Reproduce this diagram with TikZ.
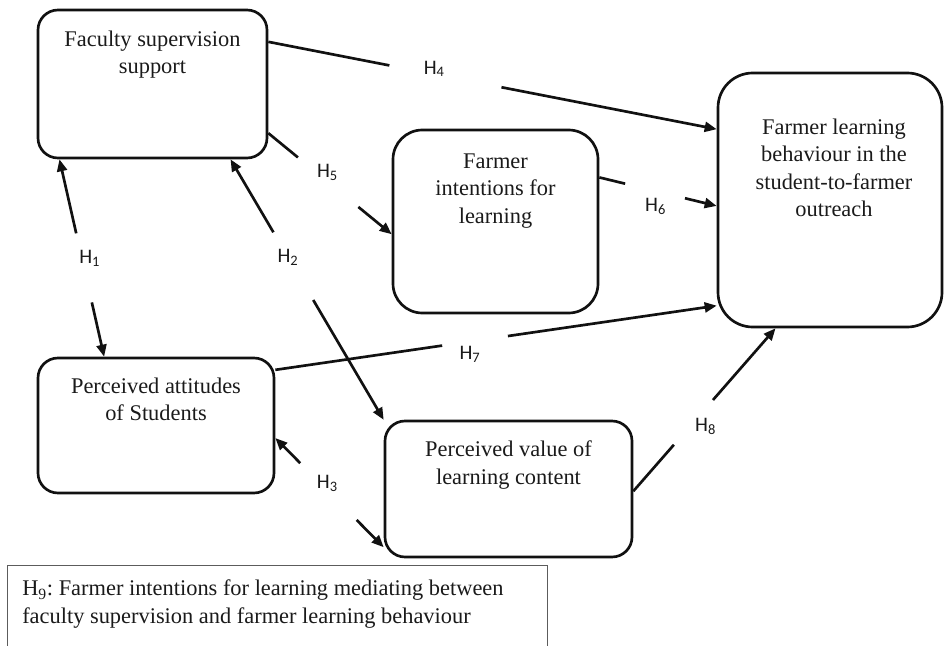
\documentclass[tikz,border=0pt]{standalone}
\usepackage{fontspec}
\setmainfont{Liberation Serif}
\newfontfamily\hypfont{Carlito}
\usetikzlibrary{positioning,arrows.meta}
\definecolor{lineDark}{HTML}{111111}
\definecolor{noteLine}{HTML}{5C5C5C}
\definecolor{textMain}{HTML}{1A1A1A}
\newcommand{\hypnum}[1]{H\textsubscript{#1}}

\begin{document}
\begin{tikzpicture}[x=0.75pt,y=-0.75pt,
    every node/.style={text=textMain},
    box/.style={draw=lineDark,line width=2pt,rounded corners=15pt,
                inner sep=0pt},
    boxtext/.style={font=\fontsize{16.8pt}{20.5pt}\selectfont,
                    align=center,inner sep=0pt},
    hlab/.style={font=\hypfont\fontsize{15.5pt}{18pt}\selectfont,inner sep=0pt},
    link/.style={draw=lineDark,line width=2pt},
    arr/.style={link,-{Triangle[length=9pt,width=7.5pt]}},
    notebox/.style={draw=noteLine,line width=0.7pt,anchor=north west,
                    minimum width=405pt,minimum height=80pt},
  ]
  \useasboundingbox (0,0) rectangle (944,645);

  % constructs
  \node[box,minimum width=171.75pt,minimum height=111pt] (fac) at (152.5,84) {};
  \node[boxtext,below=16.5pt of fac.north] (facText) {Faculty supervision\\support};
  \node[box,rounded corners=22pt,minimum width=153.75pt,minimum height=137.25pt] (fil) at (495.5,221.5) {};
  \node[boxtext,below=18.75pt of fil.north] (filText) {Farmer\\intentions for\\learning};
  \node[box,rounded corners=26pt,minimum width=168pt,minimum height=190.5pt] (flb) at (830,200) {};
  \node[boxtext,below=35.25pt of flb.north,xshift=3pt] (flbText) {Farmer learning\\behaviour in the\\student-to-farmer\\outreach};
  \node[box,minimum width=177pt,minimum height=101.25pt] (pas) at (156,425.5) {};
  \node[boxtext,below=15.75pt of pas.north] (pasText) {Perceived attitudes\\of Students};
  \node[box,minimum width=185.25pt,minimum height=102pt] (pvl) at (508.5,489) {};
  \node[boxtext,below=15.75pt of pvl.north] (pvlText) {Perceived value of\\learning content};

  % hypothesis paths, each broken around its label
  \path (fac.20) -- (flb.148) coordinate[pos=.27] (h4a) coordinate[pos=.52] (h4b)
    node[hlab,pos=.37,yshift=4pt] (h4) {\hypnum{4}};
  \draw[link] (fac.20) -- (h4a);
  \draw[arr] (h4b) -- (flb.148);

  \path (fac.-23) -- (fil.187) coordinate[pos=.24] (h5a) coordinate[pos=.73] (h5b)
    node[hlab,pos=.48,yshift=7pt] (h5) {\hypnum{5}};
  \draw[link] (fac.-23) -- (h5a);
  \draw[arr] (h5b) -- (fil.187);

  \path (fil.23) -- (flb.183) coordinate[pos=.22] (h6a) coordinate[pos=.73] (h6b)
    node[hlab,pos=.48,yshift=-11.5pt] (h6) {\hypnum{6}};
  \draw[link] (fil.23) -- (h6a);
  \draw[arr] (h6b) -- (flb.183);

  \path (fac.219) -- (pas.127) coordinate[pos=.375] (h1a) coordinate[pos=.725] (h1b)
    node[hlab,pos=.5,xshift=6pt] (h1) {\hypnum{1}};
  \draw[arr] (h1a) -- (fac.219);
  \draw[arr] (h1b) -- (pas.127);

  \path (fac.-44) -- (pvl.151) coordinate[pos=.28] (h2a) coordinate[pos=.54] (h2b)
    node[hlab,pos=.375] (h2) {\hypnum{2}};
  \draw[arr] (h2a) -- (fac.-44);
  \draw[arr] (h2b) -- (pvl.151);

  \path (pas.-6) -- (pvl.205) coordinate[pos=.23] (h3a) coordinate[pos=.75] (h3b)
    node[hlab,pos=.48,yshift=5pt] (h3) {\hypnum{3}};
  \draw[arr] (h3a) -- (pas.-6);
  \draw[arr] (h3b) -- (pvl.205);

  \path (pas.25) -- (flb.223) coordinate[pos=.378] (h7a) coordinate[pos=.527] (h7b)
    node[hlab,pos=.441,yshift=-9.5pt] (h7) {\hypnum{7}};
  \draw[link] (pas.25) -- (h7a);
  \draw[arr] (h7b) -- (flb.223);

  \path (pvl.-1) -- (flb.247) coordinate[pos=.285] (h8a) coordinate[pos=.56] (h8b)
    node[hlab,pos=.396,xshift=12pt] (h8) {\hypnum{8}};
  \draw[link] (pvl.-1) -- (h8a);
  \draw[arr] (h8b) -- (flb.247);

  % mediation note
  \node[notebox] (h9) at (7,565) {};
  \node[boxtext,align=left,anchor=north west,below right=11pt and 11.25pt of h9.north west] (h9Text)
    {\frenchspacing\hypnum{9}: Farmer intentions for learning mediating between\\faculty supervision and farmer learning behaviour};
\end{tikzpicture}
\end{document}
